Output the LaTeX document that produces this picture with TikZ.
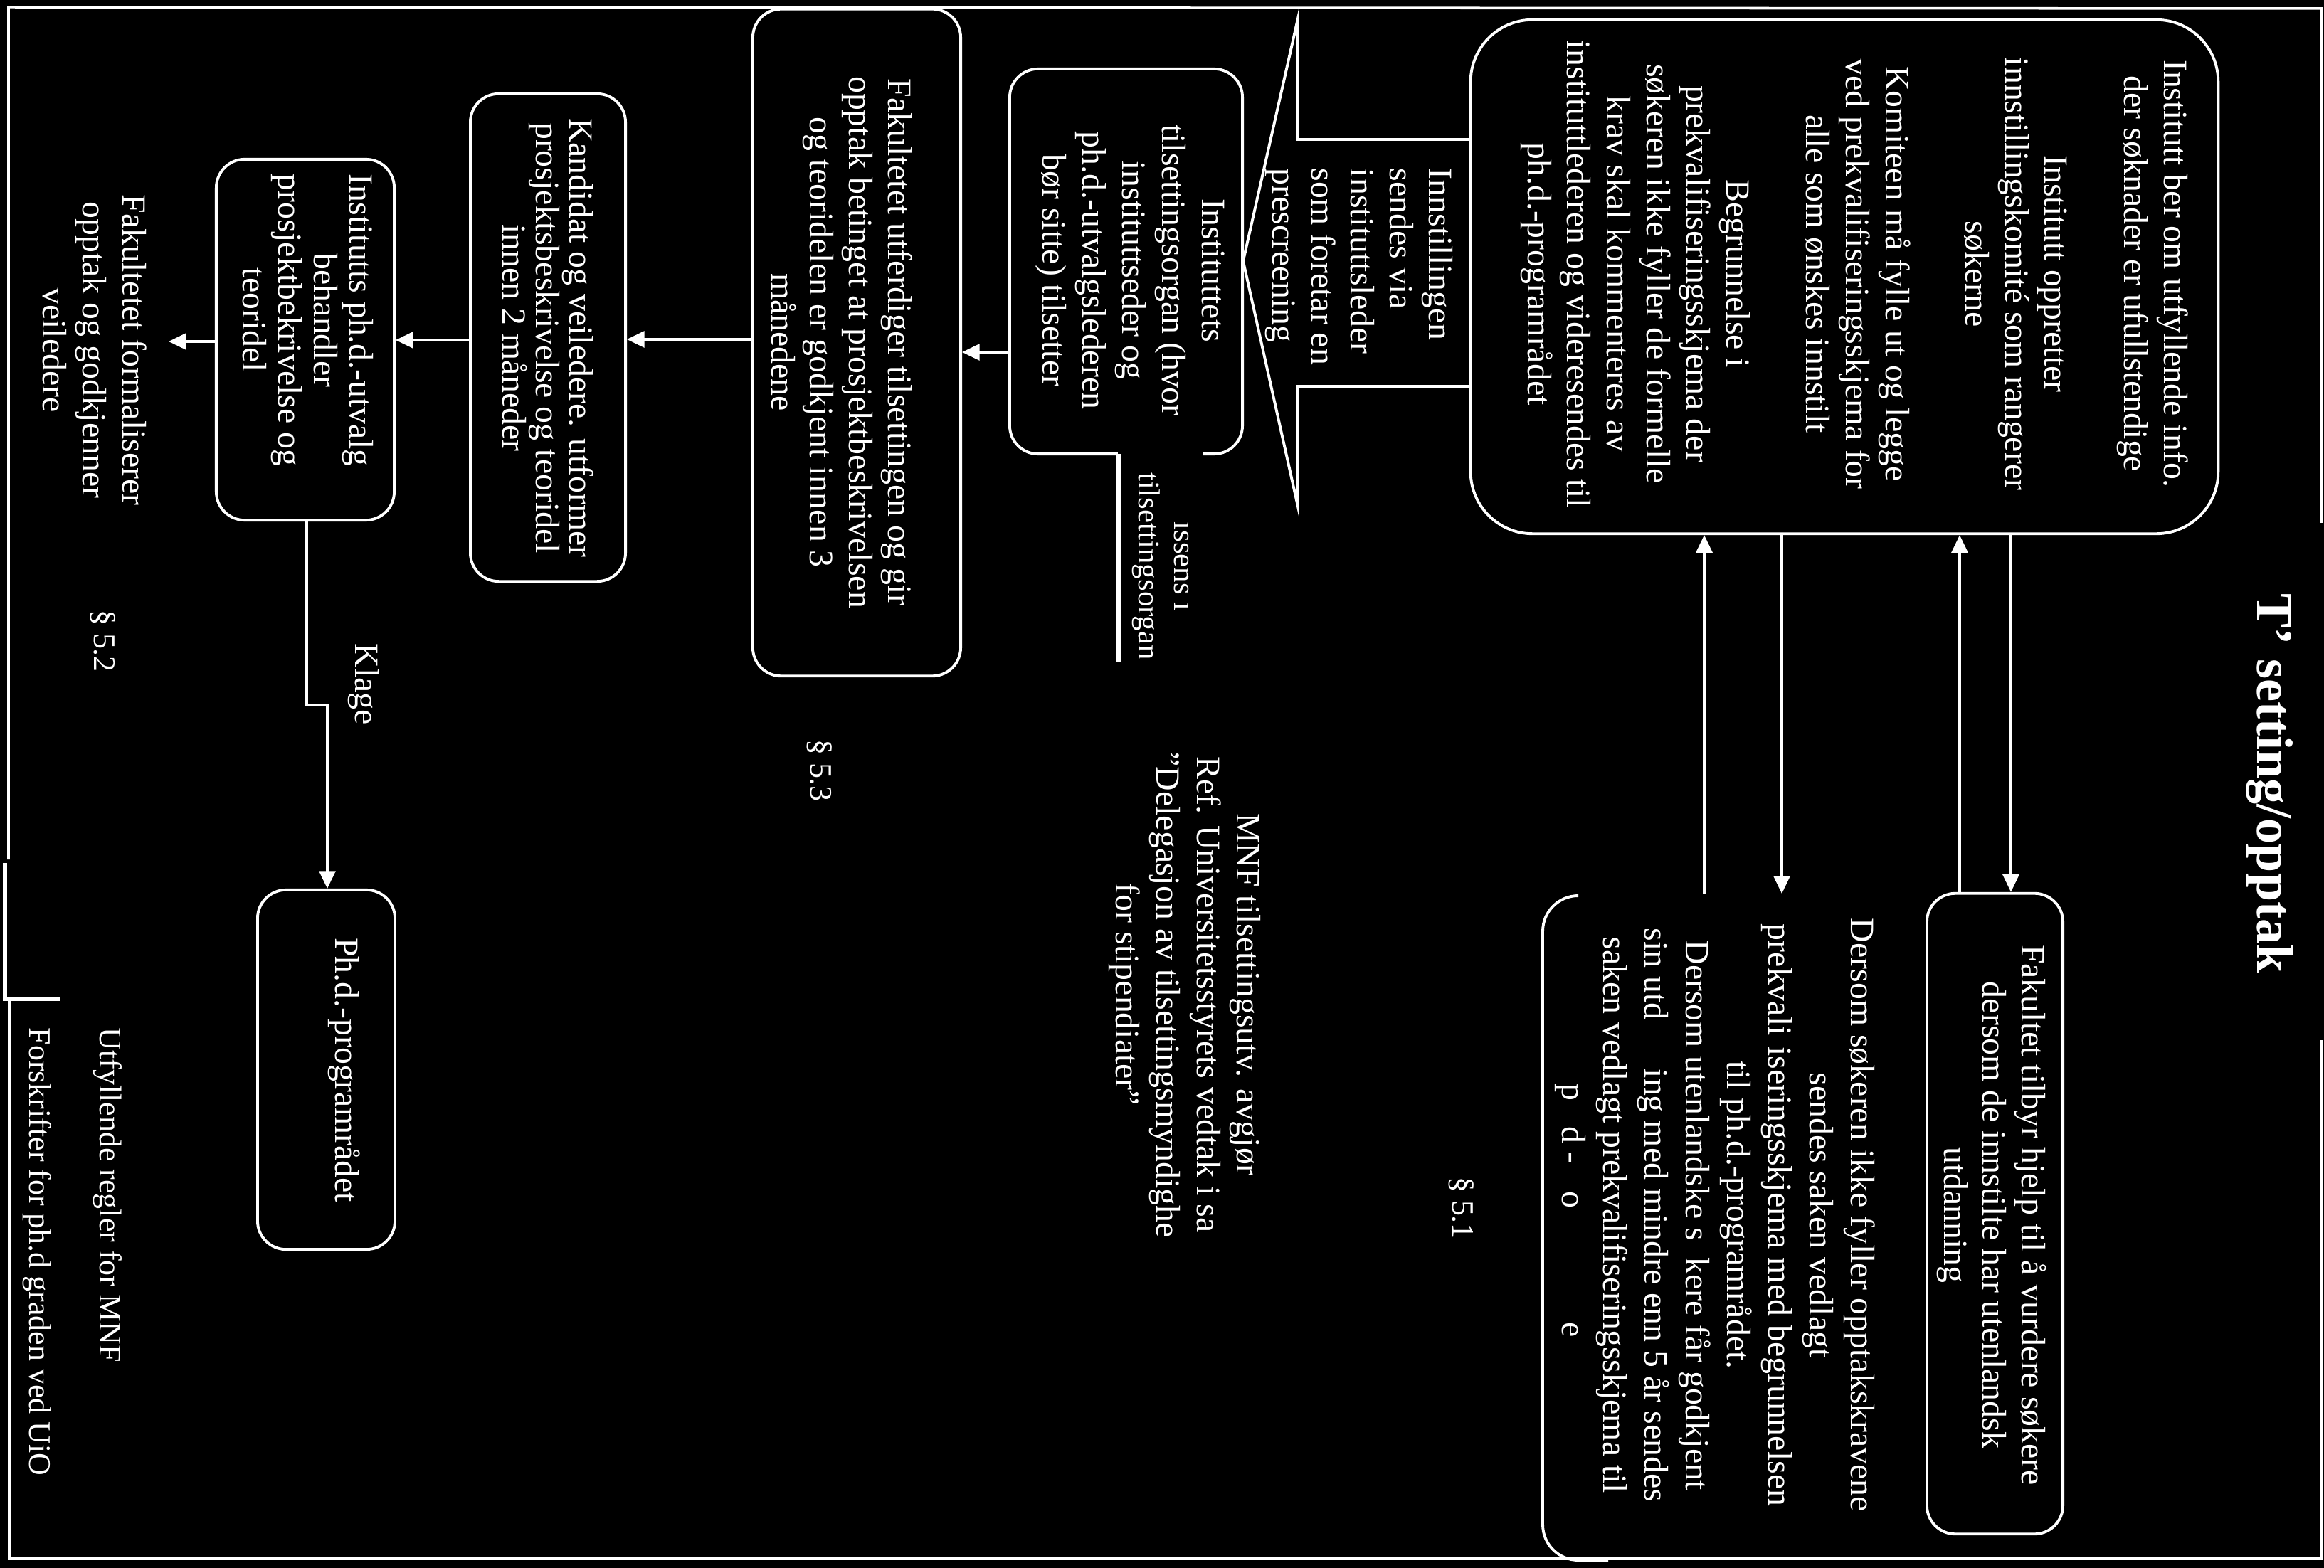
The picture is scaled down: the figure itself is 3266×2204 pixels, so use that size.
\documentclass[tikz,border=0pt]{standalone}
\usepackage{fontspec}
\setmainfont{Liberation Serif}
\usetikzlibrary{arrows.meta}
\begin{document}
\begin{tikzpicture}[x=0.01cm,y=-0.01cm,
 box/.style={draw=white,line width=1.1pt,inner sep=0pt,rounded corners=0.4cm},
 txt/.style={text=white,rotate=-90,align=center,inner sep=0pt,font=\fontsize{13.6}{15.8}\selectfont},
 arr/.style={draw=white,line width=0.9pt,-{Triangle[length=7pt,width=6.5pt]}},
 frame/.style={draw=white,line width=1pt},
 shp/.style={draw=white,line width=1.1pt}]
\fill[black] (0,0) rectangle (3266,2204);
\useasboundingbox (0,0) rectangle (3266,2204);

% outer frame
\draw[frame] (3262,735) -- (3262,12) -- (12,10) -- (12,1208);
\draw[white,line width=1.6pt] (7,1213) -- (7,1404) -- (85,1404);
\draw[frame] (13,1404) -- (13,2191) -- (3262,2191) -- (3262,1462);

% title
\node[txt,font={\fontsize{20.5}{24}\selectfont\bfseries}] (T) at (3190,1101) {T\textquoteright\phantom{l}setting/opptak};

% boxes
\node[box,rounded corners=0.87cm,minimum width=10.5cm,minimum height=7.22cm] (A) at (2592,389) {};
\node[box,minimum width=3.27cm,minimum height=5.41cm] (C) at (1582.5,367.5) {};
\node[box,minimum width=2.92cm,minimum height=9.37cm] (D) at (1204,481.5) {};
\node[box,minimum width=2.18cm,minimum height=6.85cm] (E) at (770,474.5) {};
\node[box,minimum width=2.5cm,minimum height=5.07cm] (F) at (429,477.5) {};
\node[box,minimum width=1.93cm,minimum height=5.05cm] (H) at (458.5,1503.5) {};
\node[box,minimum width=1.91cm,minimum height=9.0cm] (I) at (2803.5,1706) {};

% partial box J
\draw[shp,rounded corners=0.5cm] (2218,1259) -- (2168,1259) -- (2168,2193) -- (2260,2193);

% block arrow
\draw[shp] (2067,196) -- (1824,196) -- (1824,26) -- (1747,367) -- (1824,712) -- (1824,543) -- (2067,543);

% texts
\node[txt,font=\fontsize{13.6}{15.9}\selectfont] (At) at (2606,385) {Institutt ber om utfyllende info.\\ der søknader er ufullstendige\\[15.9pt] Institutt oppretter\\ innstillingskomité som rangerer\\ søkerne\\[15.9pt] Komiteen må fylle ut og legge\\ ved prekvalifiseringsskjema for\\ alle som ønskes innstilt\\[15.9pt] Begrunnelse i\\ prekvalifiseringsskjema der\\ søkeren ikke fyller de formelle\\ krav skal kommenteres av\\ instituttlederen og videresendes til\\ ph.d.-programrådet};

\node[txt,align=left,font=\fontsize{13.6}{15.6}\selectfont] (Bt) at (1910,375) {Innstillingen\\ sendes via\\ instituttsleder\\ som foretar en\\ prescreening};

\node[txt,font=\fontsize{13.6}{15.9}\selectfont] (Ct) at (1588,380) {Instituttets\\ tilsettingsorgan (hvor\\ instituttseder og\\ ph.d.-utvalgslederen\\ bør sitte) tilsetter};

\node[txt,fill=black,inner xsep=0.32cm,inner ysep=0.2cm,font=\fontsize{12.2}{14.2}\selectfont] (Kt) at (1631,796) {ıssens ı\\ tilsettingsorgan};
\draw[white,line width=2.5pt] (1572,638) -- (1572,930);

\node[txt,font=\fontsize{13.6}{15.6}\selectfont] (Dt) at (1183,481) {Fakultetet utferdiger tilsettingen og gir\\ opptak betinget at prosjektbeskrivelsen\\ og teoridelen er godkjent innen 3\\ månedene};

\node[txt,font=\fontsize{13.6}{13.4}\selectfont] (Et) at (770,475) {Kandidat og veiledere. utformer\\ prosjektsbeskrivelse og teoridel\\ innen 2 måneder};

\node[txt,font=\fontsize{13.6}{14.2}\selectfont] (Ft) at (433,450) {Institutts ph.d.-utvalg\\ behandler\\ prosjektbekrivelse og\\ teoridel};

\node[txt,font=\fontsize{13.6}{15.9}\selectfont] (G) at (133,492) {Fakultetet formaliserer\\ opptak og godkjenner\\ veiledere};

\node[txt] (Ht) at (484,1504) {Ph.d.-programrådet};

\node[txt,font=\fontsize{13.6}{15.4}\selectfont] (It) at (2799,1708) {Fakultet tilbyr hjelp til å vurdere søkere\\ dersom de innstilte har utenlandsk\\ utdanning};

\node[txt,font=\fontsize{13.6}{16.5}\selectfont] (Jt) at (2410,1708) {Dersom søkeren ikke fyller opptakskravene\\
sendes saken vedlagt\hspace*{1.8cm}\\
prekvali\phantom{f}iseringsskjema med begrunnelsen\\
til ph.d.-programrådet.\hspace*{0.84cm}\\
Dersom utenlandske s\phantom{ø}kere får godkjent\hspace*{0.5cm}\\
sin utd\phantom{ann}ing med mindre enn 5 år sendes\\
saken vedlagt prekvalifiseringsskjema til\\
p\phantom{h.}d\phantom{.}-\phantom{pr}o\phantom{gramråd}e\phantom{t}};

\node[txt,font=\fontsize{13.6}{16.2}\selectfont] (M) at (1665,1398) {MNF tilsettingsutv. avgjør\\ Ref. Universitetsstyrets vedtak i sa\\ ”Delegasjon av tilsettingsmyndighe\\ for stipendiater”};

\node[txt,font=\fontsize{12.5}{14}\selectfont] (p51) at (2054,1698) {§ 5.1};
\node[txt,font=\fontsize{12.5}{14}\selectfont] (p52) at (145,901) {§ 5.2};
\node[txt,font=\fontsize{12.5}{14}\selectfont] (p53) at (1152,1083) {§ 5.3};
\node[txt] (kl) at (511,962) {Klage};

\node[txt,anchor=west,font=\fontsize{12.5}{14}\selectfont] (U) at (151,1444) {Utfyllende regler for MNF};
\node[txt,anchor=west,font=\fontsize{12.5}{14}\selectfont] (Fo) at (52,1444) {Forskrifter for ph.d graden ved UiO};

% connectors
\coordinate (j1) at (2395,1256);
\coordinate (j2) at (2504,1256);
\coordinate (i1) at (2754,1256);
\coordinate (i2) at (2826,1256);
\draw[arr] (j1) -- (j1 |- A.south);
\draw[arr] (j2 |- A.south) -- (j2);
\draw[arr] (i1 |- I.north) -- (i1 |- A.south);
\draw[arr] (i2 |- A.south) -- (i2 |- I.north);

\coordinate (cd) at (1400,495);
\draw[arr] (C.west |- cd) -- (D.east |- cd);
\coordinate (de) at (960,477);
\draw[arr] (D.west |- de) -- (E.east |- de);
\coordinate (ef) at (600,478);
\draw[arr] (E.west |- ef) -- (F.east |- ef);
\coordinate (gtip) at (237,480);
\draw[arr] (F.west |- gtip) -- (gtip);
\coordinate (k1) at (431,991);
\coordinate (k2) at (460,991);
\draw[arr] (F.south -| k1) -- (k1) -- (k2) -- (k2 |- H.north);
\end{tikzpicture}
\end{document}
